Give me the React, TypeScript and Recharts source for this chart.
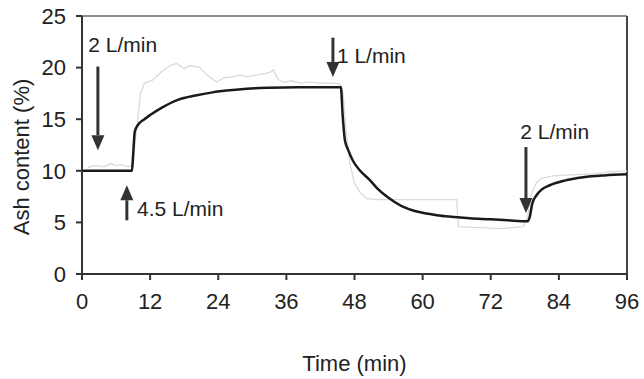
import {
  LineChart,
  Line,
  XAxis,
  YAxis,
  ReferenceLine,
  ReferenceDot,
} from 'recharts';

const FONT = '"Liberation Sans", Arial, sans-serif';
const INK = '#222';

// model curve (black)
const modelTime = [
  0, 8.8, 9.0, 9.3, 9.8, 11, 12, 14, 17, 20, 23, 26, 29, 33, 38, 45.6, 45.9,
  46.3, 46.9, 47.7, 49, 50.7, 52, 53.7, 55, 56.6, 59, 62.5, 65, 68.3, 72, 75,
  78.5, 78.9, 79.3, 80.1, 81, 82.4, 85, 88.3, 92, 96,
];
const modelAsh = [
  10, 10, 11.5, 13.8, 14.4, 15.0, 15.4, 16.1, 16.9, 17.3, 17.6, 17.8, 17.95,
  18.05, 18.1, 18.1, 15.5, 13.0, 12.0, 11.0, 10.0, 9.1, 8.3, 7.5, 7.0, 6.5,
  6.05, 5.7, 5.55, 5.4, 5.3, 5.2, 5.1, 5.6, 6.8, 7.65, 8.2, 8.6, 9.05, 9.37,
  9.55, 9.66,
];

// measured ash (grey, noisy)
const measuredTime = [
  1, 2, 4, 5, 6, 7, 8, 9, 9.4, 9.8, 10.3, 11, 12.5, 14, 15.5, 16.7, 18, 19,
  20.8, 22, 23.7, 25, 26.5, 27.8, 29, 31, 33, 33.7, 34.5, 35.4, 37, 38.4, 40,
  42, 44.2, 45.5, 46, 46.5, 47.2, 48, 49, 50.2, 52, 55, 60, 66, 66.3, 70, 74,
  77.7, 78.5, 79, 80, 81, 83, 86, 90, 93, 96,
];
const measuredAsh = [
  10.3, 10.5, 10.4, 10.7, 10.5, 10.6, 10.4, 10.5, 13, 15, 17.5, 18.5, 18.8,
  19.6, 20.2, 20.4, 19.9, 20.2, 20.0, 19.3, 18.6, 19.0, 19.1, 19.3, 19.1, 19.3,
  19.5, 19.8, 18.9, 18.6, 18.7, 18.5, 18.6, 18.5, 18.5, 18.4, 17.5, 14, 10.7,
  8.8, 7.9, 7.3, 7.2, 7.2, 7.2, 7.2, 4.6, 4.5, 4.4, 4.6, 5.5, 7.5, 8.8, 9.3,
  9.5, 9.6, 9.7, 9.9, 10.0,
];

const xTicks = [0, 12, 24, 36, 48, 60, 72, 84, 96];
const yTicks = [0, 5, 10, 15, 20, 25];

// flow-rate change annotations: arrow from (t, from) to (t, to), label at (labelT, labelAsh)
const flowLabels = ['2 L/min', '4.5 L/min', '1 L/min', '2 L/min'];
const arrowTime = [2.8, 7.9, 44.2, 78.2];
const arrowFrom = [20.1, 5.2, 22.9, 12.3];
const arrowTo = [12.0, 8.6, 19.1, 5.9];
const labelTime = [1.1, 9.7, 44.9, 77.2];
const labelAsh = [22.2, 6.4, 21.2, 13.8];

const modelData = modelTime.map((t, i) => ({ t, ash: modelAsh[i] }));
const measuredData = measuredTime.map((t, i) => ({ t, ash: measuredAsh[i] }));

function Arrow(props: any) {
  const { x1, y1, x2, y2 } = props;
  const dir = y2 > y1 ? 1 : -1;
  const head = 15;
  return (
    <g>
      <line
        x1={x1}
        y1={y1}
        x2={x2}
        y2={y2 - dir * head}
        stroke="#333"
        strokeWidth={3}
      />
      <polygon
        points={`${x2 - 6.5},${y2 - dir * head} ${x2 + 6.5},${y2 - dir * head} ${x2},${y2}`}
        fill="#333"
      />
    </g>
  );
}

function FlowText({ cx, cy, text }: any) {
  return (
    <text
      x={cx}
      y={cy}
      dy="0.36em"
      fontSize={21}
      fontFamily={FONT}
      fill={INK}
    >
      {text}
    </text>
  );
}

export default function App() {
  return (
    <div style={{ width: 644, height: 379 }}>
      <style>{'body{margin:0}'}</style>
      <LineChart
        width={644}
        height={379}
        margin={{ top: 16, right: 17, bottom: 0, left: 0 }}
      >
        <XAxis
          dataKey="t"
          type="number"
          domain={[0, 96]}
          ticks={xTicks}
          allowDataOverflow
          height={105}
          tickSize={6}
          tickMargin={13}
          stroke="#333"
          strokeWidth={2}
          tick={{ fontSize: 22, fontFamily: FONT, fill: INK }}
          label={{
            value: 'Time (min)',
            position: 'insideBottom',
            offset: 8,
            fontSize: 22,
            fontFamily: FONT,
            fill: INK,
          }}
        />
        <YAxis
          type="number"
          domain={[0, 25]}
          ticks={yTicks}
          width={82}
          tickSize={6}
          tickMargin={10}
          stroke="#333"
          strokeWidth={2}
          tick={{ fontSize: 22, fontFamily: FONT, fill: INK }}
          label={{
            value: 'Ash content (%)',
            angle: -90,
            position: 'center',
            dx: -20,
            dy: 12,
            fontSize: 22,
            fontFamily: FONT,
            fill: INK,
          }}
        />
        <ReferenceLine y={25} stroke="#666" strokeWidth={1.5} />
        <ReferenceLine x={96} stroke="#444" strokeWidth={2} />

        <Line
          data={measuredData}
          dataKey="ash"
          type="linear"
          stroke="#dadada"
          strokeWidth={1.3}
          dot={false}
          isAnimationActive={false}
        />
        <Line
          data={modelData}
          dataKey="ash"
          type="monotone"
          stroke="#1a1a1a"
          strokeWidth={2.5}
          dot={false}
          isAnimationActive={false}
        />

        {flowLabels.map((label, i) => (
          <ReferenceLine
            key={`arrow-${i}`}
            segment={[
              { x: arrowTime[i], y: arrowFrom[i] },
              { x: arrowTime[i], y: arrowTo[i] },
            ]}
            shape={Arrow}
          />
        ))}
        {flowLabels.map((label, i) => (
          <ReferenceDot
            key={`label-${i}`}
            x={labelTime[i]}
            y={labelAsh[i]}
            r={0}
            shape={(p: any) => <FlowText {...p} text={label} />}
          />
        ))}
      </LineChart>
    </div>
  );
}
